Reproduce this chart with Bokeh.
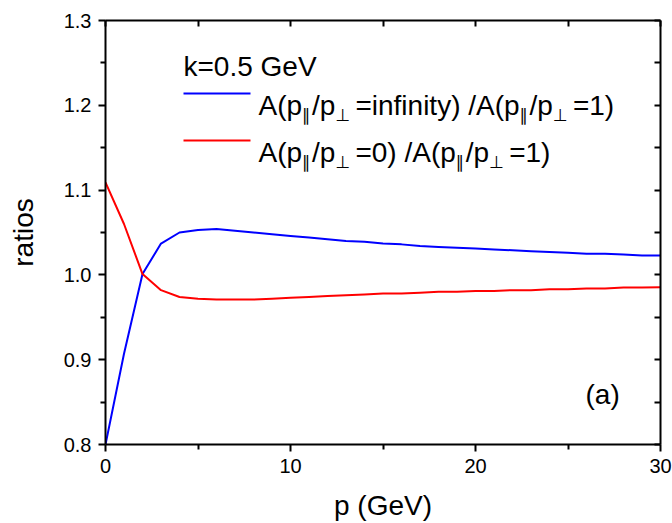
from bokeh.plotting import figure
from bokeh.models import Range1d, LinearAxis, FixedTicker, Label, CustomJSTickFormatter, PrintfTickFormatter
from bokeh.embed import file_html
from bokeh.resources import INLINE

# ---------------- data ----------------
p_gev = list(range(0, 31))
ratio_inf = [0.800, 0.907, 1.001, 1.037, 1.050, 1.053, 1.054, 1.052, 1.050, 1.048,
             1.046, 1.044, 1.042, 1.040, 1.039, 1.037, 1.036, 1.034, 1.033, 1.032,
             1.031, 1.030, 1.029, 1.028, 1.027, 1.026, 1.025, 1.025, 1.024, 1.023, 1.023]
ratio_zero = [1.109, 1.060, 1.001, 0.982, 0.974, 0.972, 0.971, 0.971, 0.971, 0.972,
              0.973, 0.974, 0.975, 0.976, 0.977, 0.978, 0.978, 0.979, 0.980, 0.980,
              0.981, 0.981, 0.982, 0.982, 0.983, 0.983, 0.984, 0.984, 0.985, 0.985, 0.9855]
x_major = [0, 10, 20, 30]
x_minor = [5, 15, 25]
y_major = [0.8, 0.9, 1.0, 1.1, 1.2, 1.3]
y_minor = [0.85, 0.95, 1.05, 1.15, 1.25]
x_title = "p (GeV)"
y_title = "ratios"

# ---------------- layout / style ----------------
W, H = 672, 523
BL, BR, BT, BB = 105, 12, 20, 79
XR = (0, 30)
YR = (0.8, 1.3)
FONT = "Liberation Sans"
FW = W - BL - BR
FH = H - BT - BB


def dx(px):
    return XR[0] + (px - BL) / FW * (XR[1] - XR[0])


def dy(py):
    return YR[0] + (BT + FH - py) / FH * (YR[1] - YR[0])


p = figure(width=W, height=H, x_range=Range1d(*XR), y_range=Range1d(*YR),
           output_backend="svg", toolbar_location=None,
           min_border_left=BL, min_border_right=BR, min_border_top=BT, min_border_bottom=BB)
p.grid.visible = False
p.outline_line_color = None
p.background_fill_color = "white"
p.border_fill_color = "white"

p.line(p_gev, ratio_inf, line_color="#0000FF", line_width=2)
p.line(p_gev, ratio_zero, line_color="#FF0000", line_width=2)


def style_axis(ax, labels=True):
    ax.axis_line_width = 2
    ax.axis_line_color = "black"
    ax.major_tick_line_width = 2
    ax.minor_tick_line_width = 2
    ax.major_tick_line_color = "black"
    ax.minor_tick_line_color = "black"
    if labels:
        ax.major_tick_out = 7
        ax.major_tick_in = 0
        ax.minor_tick_out = 5
        ax.minor_tick_in = 0
        ax.major_label_text_font = FONT
        ax.major_label_text_font_size = "20px"
        ax.major_label_text_color = "black"
        ax.major_label_standoff = 7
        ax.axis_label_text_font = FONT
        ax.axis_label_text_font_size = "28px"
        ax.axis_label_text_font_style = "normal"
        ax.axis_label_text_color = "black"
    else:
        ax.major_tick_out = 0
        ax.major_tick_in = 6
        ax.minor_tick_out = 0
        ax.minor_tick_in = 6
        ax.formatter = CustomJSTickFormatter(code="return ''")
        ax.major_label_standoff = 0
        ax.major_label_text_font_size = "1px"


xax = p.xaxis[0]
xax.ticker = FixedTicker(ticks=x_major, minor_ticks=x_minor)
style_axis(xax)
xax.axis_label = x_title
xax.axis_label_standoff = 14

yax = p.yaxis[0]
yax.ticker = FixedTicker(ticks=y_major, minor_ticks=y_minor)
yax.formatter = PrintfTickFormatter(format="%.1f")
style_axis(yax)
yax.axis_label = y_title
yax.axis_label_standoff = 22

top = LinearAxis(ticker=FixedTicker(ticks=x_major, minor_ticks=x_minor))
style_axis(top, labels=False)
p.add_layout(top, "above")
right = LinearAxis(ticker=FixedTicker(ticks=y_major, minor_ticks=y_minor))
style_axis(right, labels=False)
p.add_layout(right, "right")

# ---------------- legend (manual, with subscripts) ----------------
ADV = {'A': 667, '(': 333, ')': 333, 'p': 556, '/': 278, '=': 584, 'i': 222, 'n': 556,
       'f': 278, 't': 278, 'y': 500, ' ': 278, '0': 556, '1': 556}
MAIN = 28
SUB = 17
SUB_ADV = {"\u2225": 10, "\u22A5": 20}


def text_w(s, size):
    return sum(ADV.get(c, 556) for c in s) / 1000.0 * size


def add_text(s, px, py, size, font=FONT, align="left"):
    p.add_layout(Label(x=dx(px), y=dy(py), text=s, text_font=font,
                       text_font_size=f"{size}px", text_color="black",
                       text_baseline="alphabetic", text_align=align))


def legend_entry(pieces, px, py):
    x = px
    for s, is_sub in pieces:
        if is_sub:
            add_text(s, x, py + 9, SUB, font="DejaVu Sans")
            x += SUB_ADV[s]
        else:
            add_text(s, x, py, MAIN)
            x += text_w(s, MAIN)


PAR, PERP = "\u2225", "\u22A5"
entry1 = [("A(p", False), (PAR, True), ("/p", False), (PERP, True),
          ("=infinity) /A(p", False), (PAR, True), ("/p", False), (PERP, True), ("=1)", False)]
entry2 = [("A(p", False), (PAR, True), ("/p", False), (PERP, True),
          ("=0) /A(p", False), (PAR, True), ("/p", False), (PERP, True), ("=1)", False)]

add_text("k=0.5 GeV", 183, 66, MAIN)
p.line([dx(183), dx(250)], [dy(93), dy(93)], line_color="#0000FF", line_width=2)
legend_entry(entry1, 258, 105)
p.line([dx(183), dx(250)], [dy(140), dy(140)], line_color="#FF0000", line_width=2)
legend_entry(entry2, 258, 152)

add_text("(a)", 585, 394, MAIN)

open("out.html", "w").write(file_html(p, INLINE))
